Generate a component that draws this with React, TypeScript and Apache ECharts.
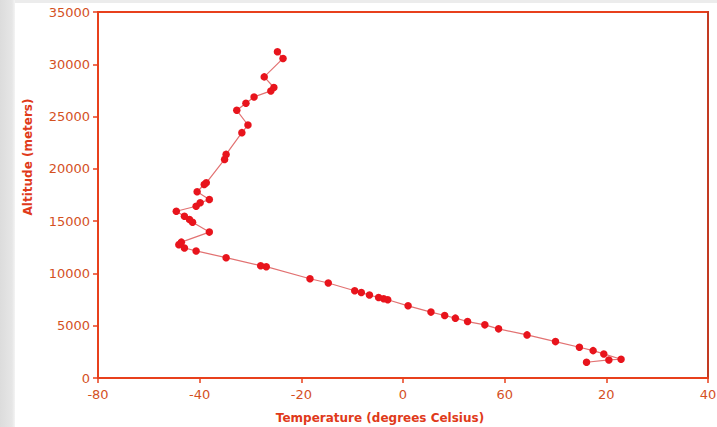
import React, { useEffect, useRef } from "react";
import * as echarts from "echarts";

// Temperature (°C) / altitude (m) sounding points, bottom to top
const temperatures = [
  16.1, 20.5, 22.9, 19.5, 17.4, 14.7, 10.0, 4.4, -1.2, -3.9, -7.3, -9.7, -11.8, -14.5, -19.0,
  -23.0, -23.8, -24.8, -26.6, -28.2, -29.5, -34.7, -38.3, -46.9, -48.0, -54.8, -60.7, -63.0,
  -64.1, -63.6, -58.1, -61.4, -62.0, -63.0, -64.6, -60.7, -59.9, -58.1, -60.5, -59.1, -58.7,
  -55.1, -54.8, -51.7, -50.5, -52.7, -50.9, -49.3, -46.0, -45.4, -47.3, -43.6, -44.7,
];
const altitudes = [
  1505, 1726, 1793, 2301, 2618, 2944, 3481, 4123, 4699, 5082, 5399, 5725, 5974, 6300, 6904,
  7479, 7575, 7700, 7930, 8180, 8342, 9081, 9493, 10644, 10740, 11507, 12149, 12437,
  12753, 12993, 13952, 14892, 15151, 15467, 15947, 16426, 16752, 17068, 17807, 18507, 18670,
  20904, 21383, 23464, 24193, 25603, 26274, 26878, 27453, 27780, 28796, 30560, 31193,
];
// Tick labels as printed on the reference x axis
const xTickValues = [-80, -60, -40, -20, 0, 20, 40];
const xTickLabels = ["-80", "-40", "-20", "0", "60", "20", "40"];
const xTitle = "Temperature (degrees Celsius)";
const yTitle = "Altitude (meters)";

export default function App() {
  const ref = useRef<HTMLDivElement>(null);
  useEffect(() => {
    if (!ref.current) return;
    const chart = echarts.init(ref.current, null, { renderer: "svg" });
    const axisColor = "#e8401c";
    const labelColor = "#d4511f";
    const font = "DejaVu Sans, Verdana, sans-serif";
    const baseGraphics: any[] = [
      {
        type: "rect",
        shape: { x: 0, y: 0, width: 15, height: 427 },
        style: {
          fill: new echarts.graphic.LinearGradient(0, 0, 1, 0, [
            { offset: 0, color: "#dcdcdc" },
            { offset: 0.8, color: "#e6e6e6" },
            { offset: 1, color: "#f4f4f4" },
          ]),
        },
        z: -1,
      },
      {
        type: "rect",
        shape: { x: 15, y: 0, width: 702, height: 3 },
        style: { fill: "#ececec" },
        z: -1,
      },
      {
        type: "text",
        x: 380,
        y: 418,
        style: {
          text: xTitle,
          fill: "#e03a1a",
          font: "bold 12px " + font,
          textAlign: "center",
          textVerticalAlign: "middle",
        },
      },
      {
        type: "text",
        x: 28,
        y: 157,
        rotation: Math.PI / 2,
        style: {
          text: yTitle,
          fill: "#e03a1a",
          font: "bold 12px " + font,
          textAlign: "center",
          textVerticalAlign: "middle",
        },
      },
    ];
    chart.setOption({
      animation: false,
      backgroundColor: "#ffffff",
      grid: {
        left: 98,
        right: 9,
        top: 12,
        bottom: 49,
        show: true,
        borderColor: axisColor,
        borderWidth: 2,
        backgroundColor: "transparent",
      },
      graphic: baseGraphics,
      xAxis: {
        type: "value",
        min: -80,
        max: 40,
        interval: 20,
        position: "bottom",
        axisLine: { show: true, onZero: false, lineStyle: { color: axisColor, width: 2 } },
        axisTick: { show: true, length: 5, lineStyle: { color: axisColor, width: 1.5 } },
        axisLabel: { show: false },
        splitLine: { show: false },
      },
      yAxis: [
        {
          type: "value",
          min: 0,
          max: 35000,
          interval: 5000,
          position: "left",
          axisLine: { show: true, onZero: false, lineStyle: { color: axisColor, width: 2 } },
          axisTick: { show: true, length: 5, lineStyle: { color: axisColor, width: 1.5 } },
          axisLabel: {
            color: labelColor,
            fontFamily: font,
            fontSize: 13,
            margin: 8,
            formatter: (v: number) => String(v),
          },
          splitLine: { show: false },
        },
        {
          type: "value",
          min: 0,
          max: 35000,
          interval: 5000,
          position: "right",
          axisLine: { show: true, onZero: false, lineStyle: { color: "#c33a22", width: 2 } },
          axisTick: { show: false },
          axisLabel: { show: false },
          splitLine: { show: false },
        },
      ],
      series: [
        {
          type: "line",
          xAxisIndex: 0,
          yAxisIndex: 0,
          data: temperatures.map((t, i) => [t, altitudes[i]]),
          symbol: "circle",
          symbolSize: 7.5,
          itemStyle: { color: "#e8141c" },
          lineStyle: { color: "#e27272", width: 1.2 },
        },
      ],
    });
    // x tick labels, placed through the axis scale
    const tickLabels = xTickValues.map((v, i) => {
      const p = chart.convertToPixel({ xAxisIndex: 0, yAxisIndex: 0 }, [v, 0]) as number[];
      return {
        type: "text",
        x: p[0],
        y: p[1] + 10,
        style: {
          text: xTickLabels[i],
          fill: labelColor,
          font: "13px " + font,
          textAlign: "center",
          textVerticalAlign: "top",
        },
      };
    });
    chart.setOption({ graphic: [...baseGraphics, ...tickLabels] });
    return () => chart.dispose();
  }, []);
  return (
    <div
      ref={ref}
      style={{ position: "fixed", left: 0, top: 0, width: 717, height: 427 }}
    />
  );
}
